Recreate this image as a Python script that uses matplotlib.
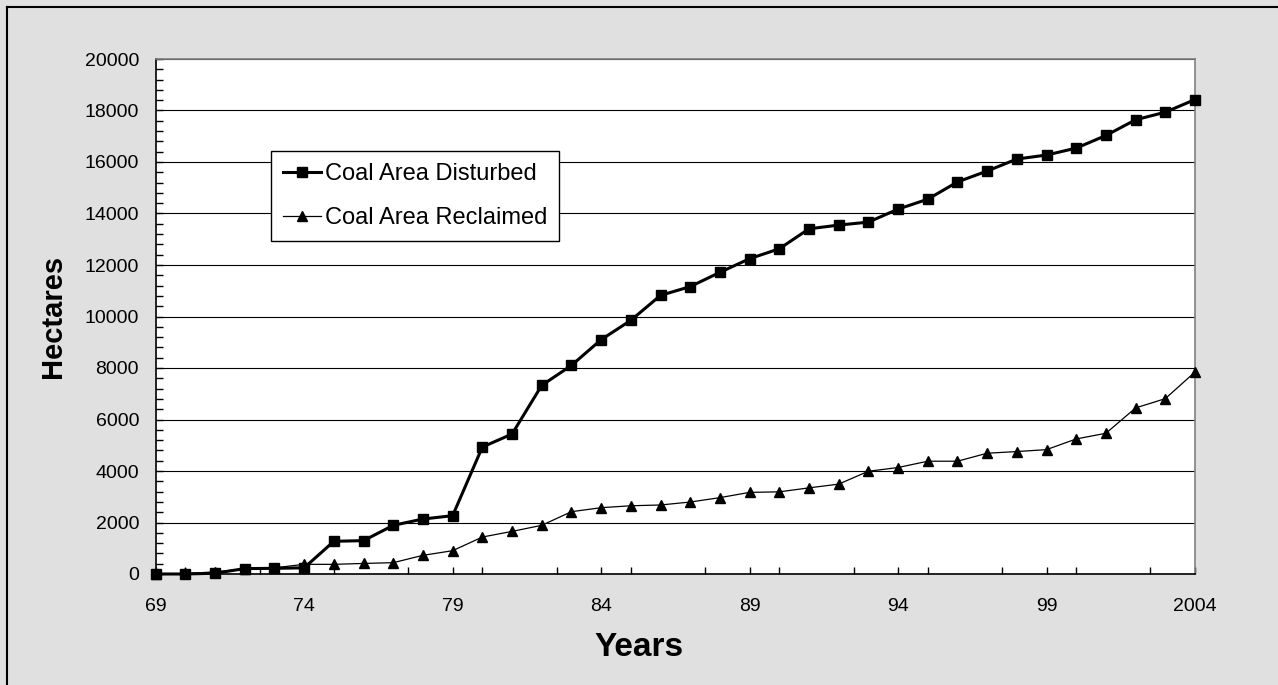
import matplotlib.pyplot as plt
from matplotlib.lines import Line2D
from matplotlib.ticker import MultipleLocator

years = list(range(1969, 2005))
disturbed = [0, 0, 30, 210, 220, 240, 1270, 1295, 1890, 2135,
             2265, 4930, 5435, 7325, 8100, 9100, 9850, 10820, 11160, 11715,
             12245, 12630, 13405, 13550, 13665, 14170, 14555, 15225, 15650, 16115,
             16270, 16540, 17030, 17640, 17935, 18425]
reclaimed = [0, 20, 80, 200, 240, 375, 375, 410, 440, 725,
             905, 1435, 1655, 1890, 2420, 2575, 2650, 2680, 2795, 2965,
             3170, 3190, 3345, 3490, 3990, 4135, 4380, 4380, 4690, 4755,
             4830, 5245, 5465, 6450, 6810, 7845]
tick_years = [1969, 1974, 1979, 1984, 1989, 1994, 1999, 2004]
tick_labels = ["69", "74", "79", "84", "89", "94", "99", "2004"]

plt.rcParams['font.family'] = ['Liberation Sans', 'DejaVu Sans']

W, H = 1278, 685
fig = plt.figure(figsize=(W / 100, H / 100), dpi=100)
fig.patch.set_facecolor('#e0e0e0')

ax = fig.add_axes([155.7 / W, (H - 574) / H, 1039.3 / W, 515 / H])
ax.set_facecolor('white')

ax.plot(years, disturbed, color='black', linewidth=2.2, marker='s', markersize=6.8,
        label="Coal Area Disturbed", clip_on=False, zorder=4)
ax.plot(years, reclaimed, color='black', linewidth=0.9, marker='^', markersize=7,
        label="Coal Area Reclaimed", clip_on=False, zorder=4)

ax.set_xlim(1969, 2004)
ax.set_ylim(0, 20000)
ax.set_xticks(tick_years)
ax.set_xticklabels(tick_labels)
ax.xaxis.set_minor_locator(MultipleLocator(2.5))
ax.yaxis.set_major_locator(MultipleLocator(2000))
ax.yaxis.set_minor_locator(MultipleLocator(400))

ax.tick_params(axis='both', which='both', direction='in', length=5, width=1, color='black')
ax.tick_params(axis='x', which='major', labelsize=14, pad=17)
ax.tick_params(axis='y', which='major', labelsize=14, pad=12)

ax.grid(True, axis='y', which='major', color='black', linewidth=0.8)
ax.set_axisbelow(True)

for side in ['top', 'right']:
    ax.spines[side].set_color('#808080')
    ax.spines[side].set_linewidth(1.2)
for side in ['left', 'bottom']:
    ax.spines[side].set_color('black')
    ax.spines[side].set_linewidth(1.2)

leg = ax.legend(loc='upper left', bbox_to_anchor=((271 - 155.7) / 1039.3, (574 - 151) / 515),
                borderaxespad=0, fontsize=17, frameon=True, fancybox=False,
                handlelength=1.6, handletextpad=0.2, labelspacing=0.95,
                borderpad=0.5)
leg.get_frame().set_edgecolor('black')
leg.get_frame().set_linewidth(1.0)
leg.get_frame().set_alpha(1)

fig.text(639 / W, 1 - 648 / H, "Years", fontsize=24, fontweight='bold',
         ha='center', va='center')
fig.text(53 / W, 1 - 316 / H, "Hectares", fontsize=21, fontweight='bold',
         ha='center', va='center', rotation=90)

# outer border (top and left only)
fig.add_artist(Line2D([7 / W, 1], [1 - 7 / H, 1 - 7 / H], transform=fig.transFigure,
                      color='black', linewidth=1.5))
fig.add_artist(Line2D([7 / W, 7 / W], [0, 1 - 7 / H], transform=fig.transFigure,
                      color='black', linewidth=1.5))

fig.savefig("out.png", dpi=100, facecolor=fig.get_facecolor())
